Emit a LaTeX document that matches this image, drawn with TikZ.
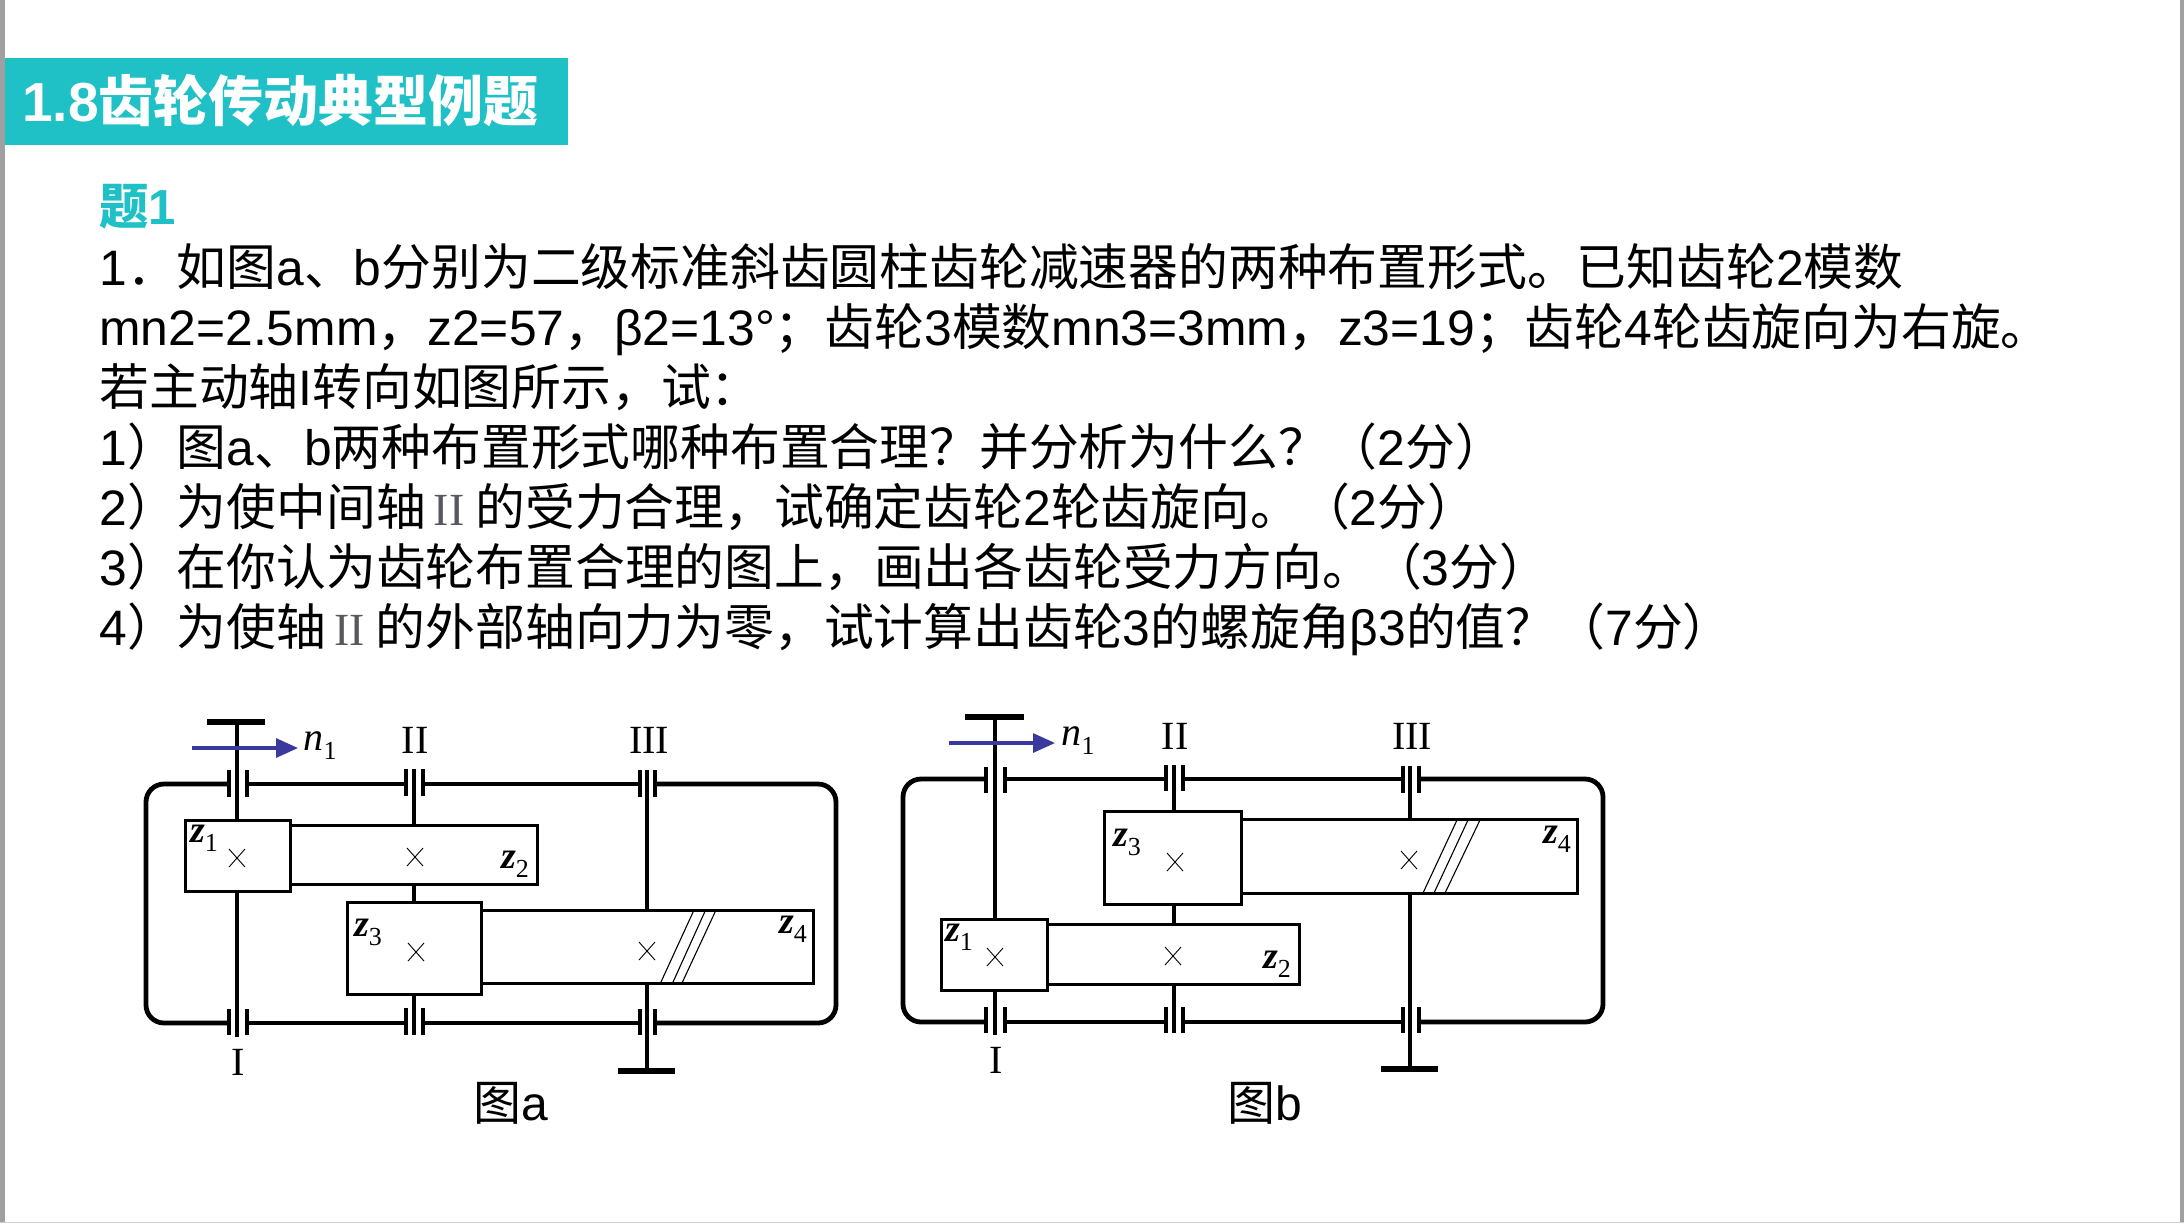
\documentclass[tikz,border=0pt]{standalone}
\usepackage{fontspec}
\setmainfont{Liberation Sans}
\newfontfamily\cjk{Noto Sans CJK SC}
\newfontfamily\rmlab{Liberation Serif}
\usetikzlibrary{arrows.meta}
\definecolor{teal1}{HTML}{1FC0C6}
\definecolor{edgegray}{HTML}{A0A0A0}
\definecolor{arrowblue}{HTML}{3A3A9E}
\definecolor{romgray}{HTML}{55585C}
\newcommand{\C}[1]{{\cjk #1}}
\newcommand{\romII}{{\rmlab\color{romgray}\kern4pt\fontsize{23}{23}\selectfont II\kern5.5pt}}
\newcommand{\zlab}[1]{{\rmlab\itshape\bfseries z}\raisebox{-4.5pt}{\rmlab\fontsize{13}{13}\selectfont #1}}
\newcommand{\nlab}{{\rmlab\itshape n}\raisebox{-4.5pt}{\rmlab\fontsize{13}{13}\selectfont 1}}
\newcommand{\bearingT}[4]{% x-left, x-right, y-top, y-bottom
  \draw[bearline] (#1,#3) -- (#1,#4);
  \draw[bearline] (#2,#3) -- (#2,#4);}
\newcommand{\crossmark}[2]{\draw[thinl] (#1-8,#2-9) -- (#1+8,#2+9) (#1-8,#2+9) -- (#1+8,#2-9);}
\tikzset{
  x=0.5pt,y=-0.5pt,
  txt/.style={anchor=base west,inner sep=0,font=\fontsize{24.9}{24.9}\selectfont,text=black},
  shaftl/.style={line width=2.4pt,black},
  bearline/.style={line width=2pt,black},
  framel/.style={line width=2.4pt,black,rounded corners=9pt},
  gearl/.style={line width=1.5pt,black,fill=white},
  thinl/.style={line width=0.45pt,black},
  hatchl/.style={line width=0.55pt,black},
  capbar/.style={line width=2.8pt,black},
  rom/.style={inner sep=0,font=\rmlab\fontsize{20}{20}\selectfont},
  zl/.style={inner sep=0,font=\fontsize{19}{19}\selectfont},
  nl/.style={inner sep=0,font=\fontsize{20}{20}\selectfont},
  spin/.style={line width=1.6pt,arrowblue,-{Triangle[length=11pt,width=9.5pt]}},
  figcap/.style={inner sep=0,font=\fontsize{24}{24}\selectfont},
}
\begin{document}
\begin{tikzpicture}
\useasboundingbox (0,0) rectangle (2184,1223);
\fill[white] (0,0) rectangle (2184,1223);
\fill[edgegray] (0,0) rectangle (5,1223);
\fill[edgegray] (2180,0) rectangle (2184,1223);
\fill[black!20] (0,1222) rectangle (2184,1223);
% banner
\fill[teal1] (5,58) rectangle (568,145);
\node[anchor=base west,inner sep=0,text=white,font=\bfseries\fontsize{27.5}{27.5}\selectfont] (title) at (22,121) {1.8\C{\bfseries 齿轮传动典型例题}};
\node[anchor=base west,inner sep=0,text=teal1,font=\bfseries\fontsize{24.6}{24.6}\selectfont] (ti1) at (99,224) {\C{\bfseries 题}1};
% text
\node[txt] (l1) at (99,285) {1\C{．如图}a\C{、}b\C{分别为二级标准斜齿圆柱齿轮减速器的两种布置形式。已知齿轮}2\C{模数}};
\node[txt] (l2) at (99,345) {mn2=2.5mm\C{，}z2=57\C{，}β2=13°\C{；齿轮}3\C{模数}mn3=3mm\C{，}z3=19\C{；齿轮}4\C{轮齿旋向为右旋。}};
\node[txt] (l3) at (99,405) {\C{若主动轴}I\C{转向如图所示，试：}};
\node[txt] (l4) at (99,465) {1\C{）图}a\C{、}b\C{两种布置形式哪种布置合理？并分析为什么？（}2\C{分）}};
\node[txt] (l5) at (99,525) {2\C{）为使中间轴}\romII\C{的受力合理，试确定齿轮}2\C{轮齿旋向。（}2\C{分）}};
\node[txt] (l6) at (99,585) {3\C{）在你认为齿轮布置合理的图上，画出各齿轮受力方向。（}3\C{分）}};
\node[txt] (l7) at (99,645) {4\C{）为使轴}\romII\C{的外部轴向力为零，试计算出齿轮}3\C{的螺旋角}β3\C{的值？（}7\C{分）}};
% ===== Figure a =====
\draw[framel] (229,784) -- (146,784) -- (146,1023) -- (229,1023);
\draw[framel,rounded corners=0pt] (247,784) -- (406,784) (422,784) -- (640,784);
\draw[framel] (657,784) -- (836,784) -- (836,1023) -- (657,1023);
\draw[framel,rounded corners=0pt] (247,1023) -- (406,1023) (422,1023) -- (640,1023);
\draw[shaftl] (237,722) -- (237,1037);
\draw[shaftl] (414,769) -- (414,1035);
\draw[shaftl] (647,770) -- (647,1071);
\draw[capbar] (207,722) -- (265,722);
\draw[capbar] (618,1071) -- (675,1071);
\bearingT{229}{247}{770}{797}
\bearingT{406}{423}{769}{796}
\bearingT{640}{655}{770}{797}
\bearingT{229}{247}{1009}{1035}
\bearingT{406}{423}{1008}{1035}
\bearingT{640}{655}{1009}{1035}
\draw[gearl] (290,825) rectangle (537,884);
\draw[gearl] (185,820) rectangle (290,891);
\draw[gearl] (481,910) rectangle (813,983);
\draw[gearl] (347,902) rectangle (481,994);
\crossmark{237}{858}
\crossmark{415}{857}
\crossmark{416}{952}
\crossmark{647}{951}
\draw[hatchl] (660.5,983) -- (694,910) (672.6,983) -- (705.6,910) (682,983) -- (716,910);
\draw[spin] (192,748) -- (298,748);
\node[nl] (na) at (320,746) {\nlab};
\node[rom] (ia) at (238,1062) {I};
\node[rom] (iia) at (415,740) {II};
\node[rom] (iiia) at (649,740) {III};
\node[zl] (z1a) at (204,838) {\zlab{1}};
\node[zl] (z2a) at (515,864) {\zlab{2}};
\node[zl] (z3a) at (368,932) {\zlab{3}};
\node[zl] (z4a) at (793,929) {\zlab{4}};
\node[figcap] (capa) at (511,1103) {\C{图}a};
% ===== Figure b =====
\draw[framel] (986,779) -- (903,779) -- (903,1022) -- (986,1022);
\draw[framel,rounded corners=0pt] (1005,779) -- (1166,779) (1183,779) -- (1403,779);
\draw[framel] (1420,779) -- (1603,779) -- (1603,1022) -- (1420,1022);
\draw[framel,rounded corners=0pt] (1005,1022) -- (1166,1022) (1183,1022) -- (1403,1022);
\draw[shaftl] (995,717) -- (995,1035);
\draw[shaftl] (1174,765) -- (1174,1033);
\draw[shaftl] (1410,766) -- (1410,1069);
\draw[capbar] (965,717) -- (1024,717);
\draw[capbar] (1381,1069) -- (1438,1069);
\bearingT{986}{1005}{767}{793}
\bearingT{1166}{1183}{765}{791}
\bearingT{1403}{1419}{766}{793}
\bearingT{986}{1005}{1007}{1033}
\bearingT{1166}{1183}{1007}{1033}
\bearingT{1403}{1419}{1007}{1033}
\draw[gearl] (1047,924) rectangle (1299,984);
\draw[gearl] (941,919) rectangle (1047,990);
\draw[gearl] (1241,819) rectangle (1577,893);
\draw[gearl] (1104,811) rectangle (1241,904);
\crossmark{995}{957}
\crossmark{1173}{956}
\crossmark{1175}{862}
\crossmark{1409}{860}
\draw[hatchl] (1423,893) -- (1457,820) (1434,893) -- (1468,820) (1445,893) -- (1480,820);
\draw[spin] (949,743) -- (1055,743);
\node[nl] (nb) at (1078,741) {\nlab};
\node[rom] (ib) at (996,1060) {I};
\node[rom] (iib) at (1175,736) {II};
\node[rom] (iiib) at (1412,736) {III};
\node[zl] (z1b) at (959,937) {\zlab{1}};
\node[zl] (z2b) at (1277,964) {\zlab{2}};
\node[zl] (z3b) at (1127,842) {\zlab{3}};
\node[zl] (z4b) at (1557,839) {\zlab{4}};
\node[figcap] (capb) at (1265,1103) {\C{图}b};
\end{tikzpicture}
\end{document}
